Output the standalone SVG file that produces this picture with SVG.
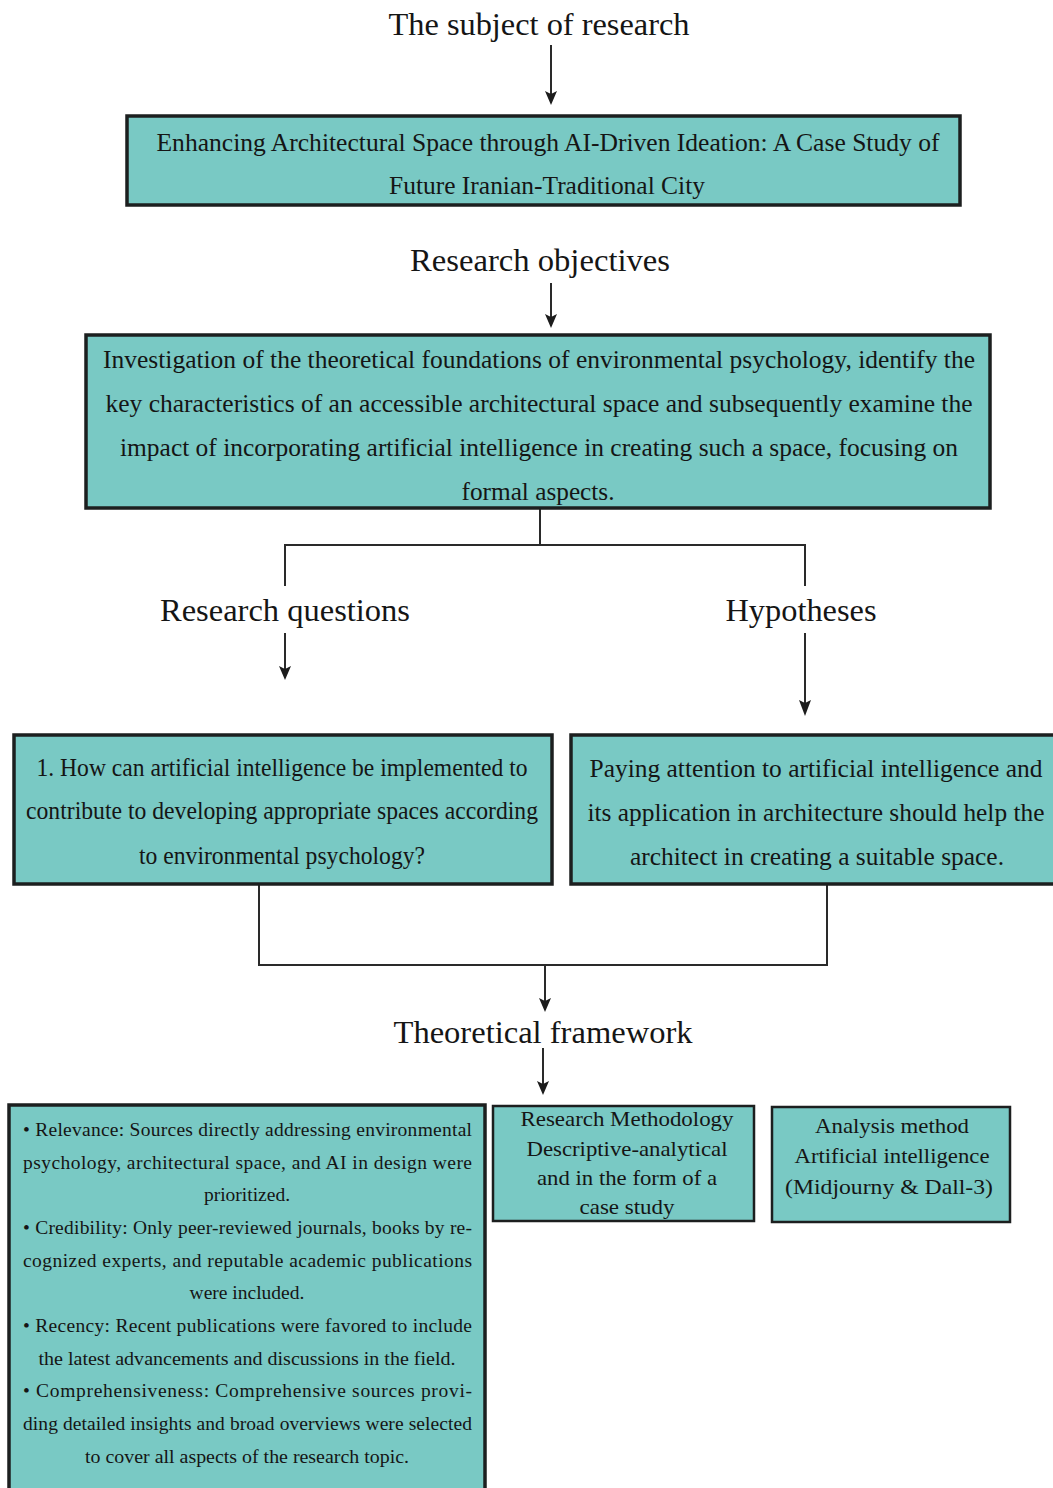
<svg xmlns="http://www.w3.org/2000/svg" width="1053" height="1488" viewBox="0 0 1053 1488">
<defs>
<style>
.box{fill:#79c9c4;stroke:#1c1f1f;stroke-width:3.5}
.sbox{fill:#79c9c4;stroke:#1c1f1f;stroke-width:2.5}
.h{font-family:"Liberation Serif","Times New Roman",serif;font-size:32px;fill:#151515;text-anchor:middle}
.t{font-family:"Liberation Serif","Times New Roman",serif;font-size:26px;fill:#151515;text-anchor:middle}
.s{font-family:"Liberation Serif","Times New Roman",serif;font-size:19.5px;fill:#151515}
.m{font-family:"Liberation Serif","Times New Roman",serif;font-size:22px;fill:#151515;text-anchor:middle}
.c{fill:none;stroke:#2a2a2a;stroke-width:2}
.ah{fill:#1c1c1c}
</style>
</defs>
<rect width="1053" height="1488" fill="#ffffff"/>

<g id="connectors">
<line class="c" x1="551" y1="45" x2="551" y2="100"/>
<path class="ah" d="M545,91 L551,94 L557,91 L551,105 Z"/>
<line class="c" x1="551" y1="283" x2="551" y2="323"/>
<path class="ah" d="M545,314 L551,317 L557,314 L551,328 Z"/>
<path class="c" d="M540,508 V545 M285,586 V545 H805 V586"/>
<line class="c" x1="285" y1="633" x2="285" y2="675"/>
<path class="ah" d="M279,666 L285,669 L291,666 L285,680 Z"/>
<line class="c" x1="805" y1="633" x2="805" y2="711"/>
<path class="ah" d="M799,700 L805,703 L811,700 L805,716 Z"/>
<path class="c" d="M259,884 V965 H827 V884"/>
<line class="c" x1="545" y1="965" x2="545" y2="1007"/>
<path class="ah" d="M539,998 L545,1001 L551,998 L545,1012 Z"/>
<line class="c" x1="543" y1="1048" x2="543" y2="1090"/>
<path class="ah" d="M537,1081 L543,1084 L549,1081 L543,1095 Z"/>
</g>

<g id="label-subject"><text class="h" x="539" y="35" textLength="301" lengthAdjust="spacingAndGlyphs">The subject of research</text></g>

<g id="node-subject">
<rect class="box" x="127" y="116" width="833" height="89"/>
<text class="t" x="548" y="151" textLength="783" lengthAdjust="spacingAndGlyphs">Enhancing Architectural Space through AI-Driven Ideation: A Case Study of</text>
<text class="t" x="547" y="194" textLength="316" lengthAdjust="spacingAndGlyphs">Future Iranian-Traditional City</text>
</g>

<g id="label-objectives"><text class="h" x="540" y="271" textLength="260" lengthAdjust="spacingAndGlyphs">Research objectives</text></g>

<g id="node-objectives">
<rect class="box" x="86" y="335" width="904" height="173"/>
<text class="t" x="539" y="368" textLength="872" lengthAdjust="spacingAndGlyphs">Investigation of the theoretical foundations of environmental psychology, identify the</text>
<text class="t" x="539" y="412" textLength="867" lengthAdjust="spacingAndGlyphs">key characteristics of an accessible architectural space and subsequently examine the</text>
<text class="t" x="539" y="456" textLength="838" lengthAdjust="spacingAndGlyphs">impact of incorporating artificial intelligence in creating such a space, focusing on</text>
<text class="t" x="538" y="500" textLength="153" lengthAdjust="spacingAndGlyphs">formal aspects.</text>
</g>

<g id="label-questions"><text class="h" x="285" y="621" textLength="250" lengthAdjust="spacingAndGlyphs">Research questions</text></g>
<g id="label-hypotheses"><text class="h" x="801" y="621" textLength="151" lengthAdjust="spacingAndGlyphs">Hypotheses</text></g>

<g id="node-questions">
<rect class="box" x="14" y="735" width="538" height="149"/>
<text class="t" x="282" y="776" textLength="491" lengthAdjust="spacingAndGlyphs">1. How can artificial intelligence be implemented to</text>
<text class="t" x="282" y="819" textLength="512" lengthAdjust="spacingAndGlyphs">contribute to developing appropriate spaces according</text>
<text class="t" x="282" y="864" textLength="286" lengthAdjust="spacingAndGlyphs">to environmental psychology?</text>
</g>

<g id="node-hypotheses">
<rect class="box" x="571" y="735" width="486" height="149"/>
<text class="t" x="816" y="777" textLength="453" lengthAdjust="spacingAndGlyphs">Paying attention to artificial intelligence and</text>
<text class="t" x="816" y="821" textLength="457" lengthAdjust="spacingAndGlyphs">its application in architecture should help the</text>
<text class="t" x="817" y="865" textLength="374" lengthAdjust="spacingAndGlyphs">architect in creating a suitable space.</text>
</g>

<g id="label-framework"><text class="h" x="543" y="1043" textLength="299" lengthAdjust="spacingAndGlyphs">Theoretical framework</text></g>

<g id="node-sources">
<rect class="box" x="9" y="1105" width="476" height="395"/>
<text class="s" x="23" y="1136" textLength="449" lengthAdjust="spacing">• Relevance: Sources directly addressing environmental</text>
<text class="s" x="23" y="1169" textLength="449" lengthAdjust="spacing">psychology, architectural space, and AI in design were</text>
<text class="s" x="247" y="1201" text-anchor="middle">prioritized.</text>
<text class="s" x="23" y="1234" textLength="449" lengthAdjust="spacing">• Credibility: Only peer-reviewed journals, books by re-</text>
<text class="s" x="23" y="1267" textLength="449" lengthAdjust="spacing">cognized experts, and reputable academic publications</text>
<text class="s" x="247" y="1299" text-anchor="middle">were included.</text>
<text class="s" x="23" y="1332" textLength="449" lengthAdjust="spacing">• Recency: Recent publications were favored to include</text>
<text class="s" x="247" y="1365" text-anchor="middle" textLength="417" lengthAdjust="spacingAndGlyphs">the latest advancements and discussions in the field.</text>
<text class="s" x="23" y="1397" textLength="449" lengthAdjust="spacing">• Comprehensiveness: Comprehensive sources provi-</text>
<text class="s" x="23" y="1430" textLength="449" lengthAdjust="spacing">ding detailed insights and broad overviews were selected</text>
<text class="s" x="247" y="1463" text-anchor="middle" textLength="324" lengthAdjust="spacingAndGlyphs">to cover all aspects of the research topic.</text>
</g>

<g id="node-methodology">
<rect class="sbox" x="493" y="1106" width="261" height="115"/>
<text class="m" x="627" y="1126" textLength="213" lengthAdjust="spacingAndGlyphs">Research Methodology</text>
<text class="m" x="627" y="1156" textLength="201" lengthAdjust="spacingAndGlyphs">Descriptive-analytical</text>
<text class="m" x="627" y="1185" textLength="180" lengthAdjust="spacingAndGlyphs">and in the form of a</text>
<text class="m" x="627" y="1214" textLength="95" lengthAdjust="spacingAndGlyphs">case study</text>
</g>

<g id="node-analysis">
<rect class="sbox" x="772" y="1107" width="238" height="115"/>
<text class="m" x="892" y="1133" textLength="154" lengthAdjust="spacingAndGlyphs">Analysis method</text>
<text class="m" x="892" y="1163" textLength="195" lengthAdjust="spacingAndGlyphs">Artificial intelligence</text>
<text class="m" x="889" y="1194" textLength="208" lengthAdjust="spacingAndGlyphs">(Midjourny &amp; Dall-3)</text>
</g>
</svg>
